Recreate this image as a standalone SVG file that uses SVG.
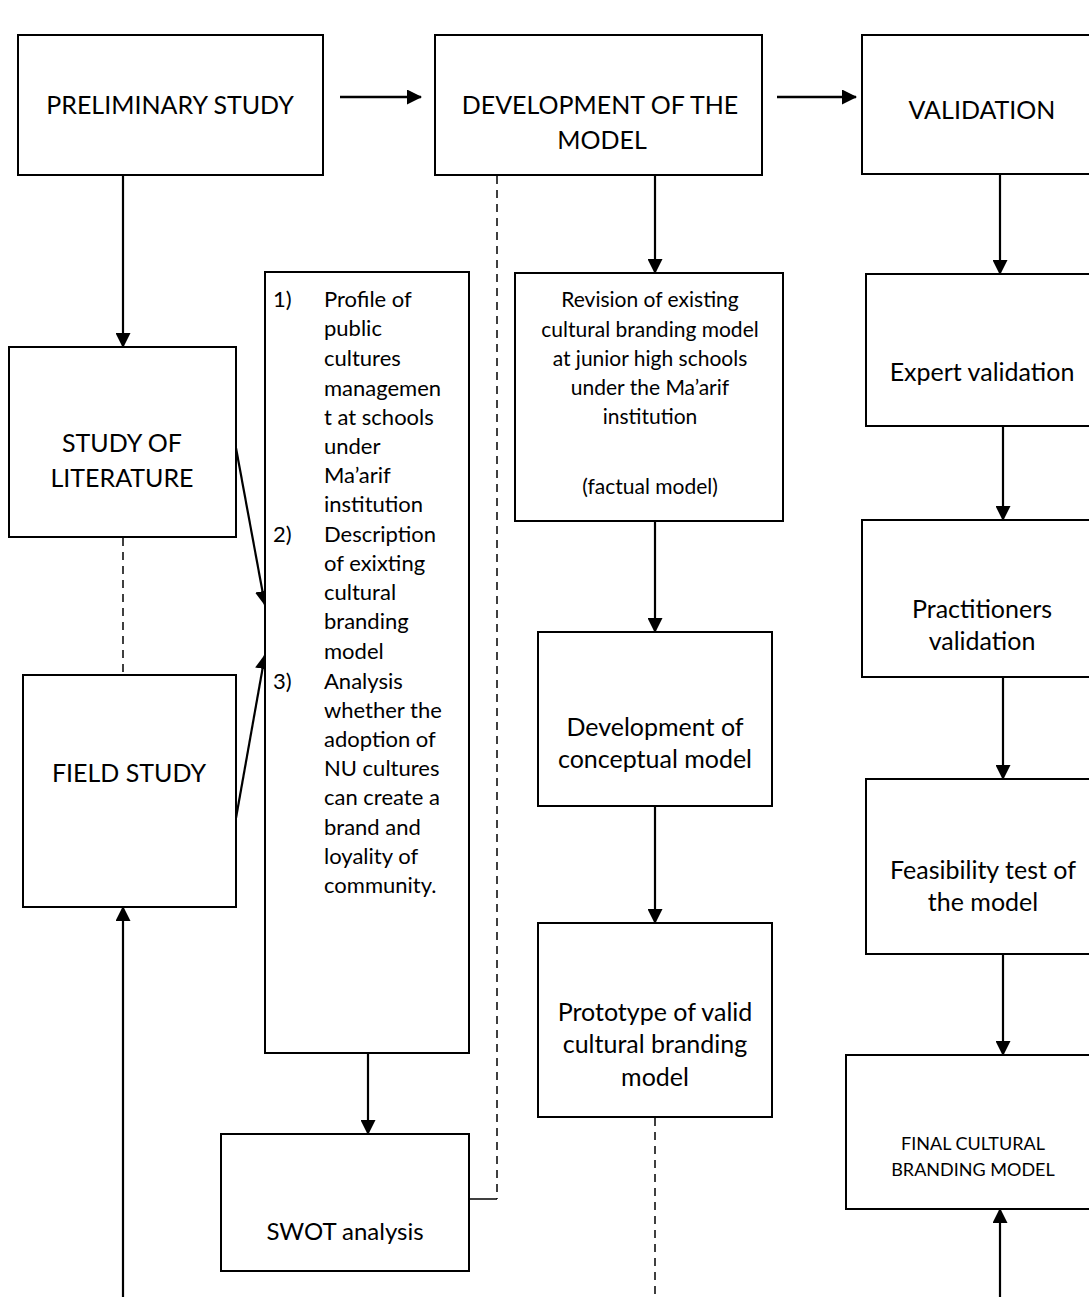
<svg xmlns="http://www.w3.org/2000/svg" width="1089" height="1297" viewBox="0 0 1089 1297">
<defs>
<marker id="ah" markerWidth="15" markerHeight="15" refX="14" refY="7.5" orient="auto" markerUnits="userSpaceOnUse" viewBox="0 0 15 15"><path d="M0,0 L15,7.5 L0,15 z" fill="#000"/></marker>
<style>
.box{fill:#fff;stroke:#000;stroke-width:2}
.ln{fill:none;stroke:#000;stroke-width:2.2}
.ar{fill:none;stroke:#000;stroke-width:2.2;marker-end:url(#ah)}
.ds{fill:none;stroke:#000;stroke-width:1.5;stroke-dasharray:8,6}
text{font-family:Lato,"Liberation Sans",sans-serif;fill:#000}
.c{text-anchor:middle}
.big{font-size:25px}
.mid{font-size:25px}
.sw{font-size:24px}
.sm{font-size:21px}
.li{font-size:22px}
.xs{font-size:18px}
</style>
</defs>
<g id="connectors">
<path class="ar" d="M340,97 H421" style="stroke-width:2.5"/>
<path class="ar" d="M777,97 H856" style="stroke-width:2.5"/>
<path class="ar" d="M123,175 V347"/>
<path class="ds" d="M123,538 V675"/>
<path class="ar" d="M123,1297 V907"/>
<path class="ar" d="M236,448 L265,605"/>
<path class="ar" d="M236,818 L265,655"/>
<path class="ar" d="M368,1053 V1134"/>
<path class="ds" d="M497,176 V1199"/>
<path class="ln" d="M497,1199 H469" style="stroke-width:1.5"/>
<path class="ar" d="M655,175 V273"/>
<path class="ar" d="M655,521 V632"/>
<path class="ar" d="M655,806 V923"/>
<path class="ds" d="M655,1118 V1297"/>
<path class="ar" d="M1000,174 V274"/>
<path class="ar" d="M1003,426 V520"/>
<path class="ar" d="M1003,677 V779"/>
<path class="ar" d="M1003,954 V1055"/>
<path class="ar" d="M1000,1297 V1209"/>
</g>
<g id="preliminary">
<rect class="box" x="18" y="35" width="305" height="140"/>
<text class="c big" x="170" y="114">PRELIMINARY STUDY</text>
</g>
<g id="development">
<rect class="box" x="435" y="35" width="327" height="140"/>
<text class="c big" x="600" y="114">DEVELOPMENT OF THE</text>
<text class="c big" x="602" y="149">MODEL</text>
</g>
<g id="validation">
<rect class="box" x="862" y="35" width="240" height="139"/>
<text class="c big" x="982" y="119">VALIDATION</text>
</g>
<g id="literature">
<rect class="box" x="9" y="347" width="227" height="190"/>
<text class="c big" x="122" y="452">STUDY OF</text>
<text class="c big" x="122" y="487">LITERATURE</text>
</g>
<g id="field">
<rect class="box" x="23" y="675" width="213" height="232"/>
<text class="c big" x="129" y="782">FIELD STUDY</text>
</g>
<g id="list">
<rect class="box" x="265" y="272" width="204" height="781"/>
<g class="li">
<text x="273" y="307">1)</text>
<text x="324" y="307">Profile of</text>
<text x="324" y="336">public</text>
<text x="324" y="366">cultures</text>
<text x="324" y="396">managemen</text>
<text x="324" y="425">t at schools</text>
<text x="324" y="454">under</text>
<text x="324" y="483">Ma’arif</text>
<text x="324" y="512">institution</text>
<text x="273" y="542">2)</text>
<text x="324" y="542">Description</text>
<text x="324" y="571">of exixting</text>
<text x="324" y="600">cultural</text>
<text x="324" y="629">branding</text>
<text x="324" y="659">model</text>
<text x="273" y="689">3)</text>
<text x="324" y="689">Analysis</text>
<text x="324" y="718">whether the</text>
<text x="324" y="747">adoption of</text>
<text x="324" y="776">NU cultures</text>
<text x="324" y="805">can create a</text>
<text x="324" y="835">brand and</text>
<text x="324" y="864">loyality of</text>
<text x="324" y="893">community.</text>
</g>
</g>
<g id="swot">
<rect class="box" x="221" y="1134" width="248" height="137"/>
<text class="c sw" x="345" y="1240">SWOT analysis</text>
</g>
<g id="revision">
<rect class="box" x="515" y="273" width="268" height="248"/>
<g class="c sm">
<text x="650" y="307">Revision of existing</text>
<text x="650" y="337">cultural branding model</text>
<text x="650" y="366">at junior high schools</text>
<text x="650" y="395">under  the Ma’arif</text>
<text x="650" y="424">institution</text>
<text x="650" y="494">(factual model)</text>
</g>
</g>
<g id="conceptual">
<rect class="box" x="538" y="632" width="234" height="174"/>
<text class="c mid" x="655" y="736">Development of</text>
<text class="c mid" x="655" y="768">conceptual model</text>
</g>
<g id="prototype">
<rect class="box" x="538" y="923" width="234" height="194"/>
<text class="c mid" x="655" y="1021">Prototype of valid</text>
<text class="c mid" x="655" y="1053">cultural branding</text>
<text class="c mid" x="655" y="1086">model</text>
</g>
<g id="expert">
<rect class="box" x="866" y="274" width="240" height="152"/>
<text class="c mid" x="982" y="381">Expert validation</text>
</g>
<g id="practitioners">
<rect class="box" x="862" y="520" width="240" height="157"/>
<text class="c mid" x="982" y="618">Practitioners</text>
<text class="c mid" x="982" y="650">validation</text>
</g>
<g id="feasibility">
<rect class="box" x="866" y="779" width="240" height="175"/>
<text class="c mid" x="983" y="879">Feasibility test of</text>
<text class="c mid" x="983" y="911">the model</text>
</g>
<g id="final">
<rect class="box" x="846" y="1055" width="260" height="154"/>
<text class="c xs" x="973" y="1150">FINAL CULTURAL</text>
<text class="c xs" x="973" y="1176">BRANDING MODEL</text>
</g>
</svg>
